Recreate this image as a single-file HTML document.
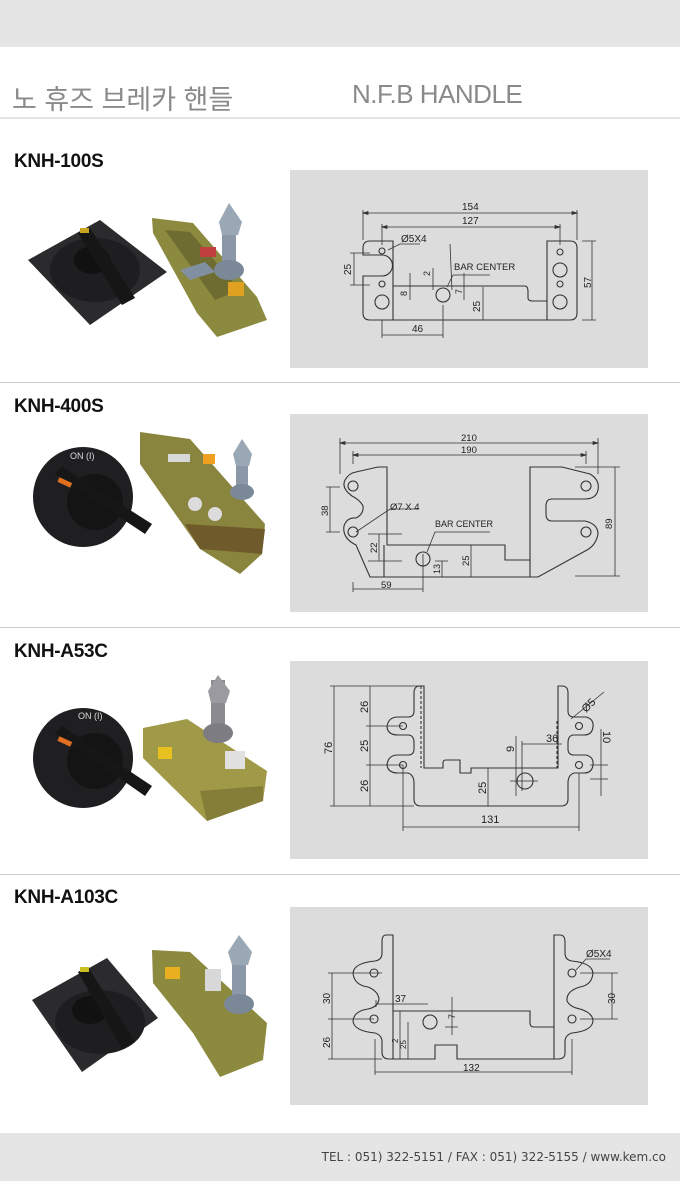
<!DOCTYPE html>
<html><head><meta charset="utf-8"><style>
*{margin:0;padding:0;box-sizing:border-box}
body{width:680px;height:1181px;background:#fff;position:relative;overflow:hidden;font-family:"Liberation Sans","Noto Sans CJK KR",sans-serif}
.band{position:absolute;left:0;width:680px;background:#e6e5e6}
.t{position:absolute;color:#8a8a8a;font-size:27px}
.hr{position:absolute;left:0;width:680px;height:2px;background:#e4e4e4}
.h{position:absolute;left:14px;font-weight:bold;font-size:19px;color:#111;letter-spacing:-0.3px}
.box{position:absolute;left:290px;width:358px;height:198px;background:#dcdcdc}
.ph{position:absolute;left:0;width:290px;height:200px}
svg text{font-family:"Liberation Sans",sans-serif;fill:#222}
.foot{position:absolute;right:14px;top:1150px;font-size:12px;color:#444;font-family:"DejaVu Sans","Liberation Sans",sans-serif}
</style></head><body>
<div class="band" style="top:0;height:47px"></div>
<div class="t" style="left:12px;top:78px">노 휴즈 브레카 핸들</div>
<div class="t" style="left:352px;top:79px;font-size:26px;letter-spacing:-0.5px">N.F.B HANDLE</div>
<div class="hr" style="top:117px"></div>

<div class="h" style="top:151px">KNH-100S</div>
<div class="h" style="top:396px">KNH-400S</div>
<div class="h" style="top:641px">KNH-A53C</div>
<div class="h" style="top:887px">KNH-A103C</div>
<div class="hr" style="top:382px;height:1px;background:#ccc"></div>
<div class="hr" style="top:627px;height:1px;background:#ccc"></div>
<div class="hr" style="top:874px;height:1px;background:#ccc"></div>

<!-- photos -->
<svg class="ph" style="top:170px" viewBox="0 0 290 200">
<polygon points="28,90 100,50 167,102 90,155" fill="#2b2a2c"/>
<ellipse cx="95" cy="100" rx="45" ry="32" fill="#1e1e20"/>
<ellipse cx="92" cy="90" rx="18" ry="14" fill="#111"/>
<polygon points="78,63 90,58 135,128 122,135" fill="#161616"/>
<rect x="80" y="58" width="9" height="5" fill="#c9a520"/>
<polygon points="152,48 193,53 257,127 267,150 217,167 197,143 153,63" fill="#8c8a3e"/>
<polygon points="165,60 190,62 240,120 215,130" fill="#6e6c30"/>
<rect x="200" y="77" width="16" height="10" fill="#c04040"/>
<rect x="228" y="112" width="16" height="14" fill="#e0a020"/>
<polygon points="180,100 205,92 215,102 190,110" fill="#8090a0"/>
<rect x="222" y="52" width="14" height="55" fill="#8a98a8"/>
<ellipse cx="229" cy="100" rx="15" ry="10" fill="#7a8898"/>
<polygon points="219,52 229,33 242,52 238,65 222,65" fill="#9aa8b6"/>
</svg>
<svg class="ph" style="top:414px" viewBox="0 0 290 200">
<circle cx="83" cy="83" r="50" fill="#1f1f21"/>
<circle cx="95" cy="88" r="28" fill="#141414"/>
<polygon points="55,60 62,53 152,110 145,120" fill="#161616"/>
<rect x="58" y="66" width="14" height="5" fill="#e07020" transform="rotate(25 65 68)"/>
<text x="70" y="45" font-size="9" style="fill:#ddd">ON (I)</text>
<polygon points="140,18 190,25 265,110 262,140 240,160 200,135 140,50" fill="#8a853e"/>
<polygon points="185,110 265,115 262,140 200,135" fill="#6e5a2a"/>
<circle cx="195" cy="90" r="7" fill="#dcdcdc"/><circle cx="215" cy="100" r="7" fill="#dcdcdc"/>
<rect x="168" y="40" width="22" height="8" fill="#d8d8d8"/>
<rect x="203" y="40" width="12" height="10" fill="#f0a020"/>
<rect x="236" y="40" width="12" height="40" fill="#8a98a8"/>
<ellipse cx="242" cy="78" rx="12" ry="8" fill="#7a8898"/>
<polygon points="233,40 242,25 252,40 249,52 236,52" fill="#9aa8b6"/>
</svg>
<svg class="ph" style="top:661px" viewBox="0 0 290 200">
<circle cx="83" cy="97" r="50" fill="#1f1f21"/>
<circle cx="95" cy="100" r="28" fill="#141414"/>
<polygon points="55,72 62,65 152,125 145,135" fill="#161616"/>
<rect x="58" y="78" width="14" height="5" fill="#e07020" transform="rotate(25 65 80)"/>
<text x="78" y="58" font-size="9" style="fill:#ddd">ON (I)</text>
<polygon points="143,67 187,58 267,110 263,140 207,160 143,97" fill="#a09a48"/>
<polygon points="200,130 263,125 263,140 207,160" fill="#857e38"/>
<rect x="158" y="86" width="14" height="12" fill="#e8c020"/>
<rect x="225" y="90" width="20" height="18" fill="#e0e0e0"/>
<rect x="211" y="19" width="14" height="55" fill="#8a8a90"/>
<ellipse cx="218" cy="72" rx="15" ry="10" fill="#7c7c82"/>
<polygon points="208,30 218,14 230,30 226,42 211,42" fill="#9a9aa0"/>
</svg>
<svg class="ph" style="top:907px" viewBox="0 0 290 200">
<polygon points="32,93 107,51 158,111 82,165" fill="#2b2a2c"/>
<ellipse cx="100" cy="115" rx="45" ry="32" fill="#1e1e20"/>
<ellipse cx="90" cy="103" rx="18" ry="14" fill="#111"/>
<polygon points="78,65 88,60 135,135 122,142" fill="#161616"/>
<rect x="80" y="60" width="9" height="5" fill="#c9c020"/>
<polygon points="152,43 190,45 267,116 263,153 220,170 193,126 153,76" fill="#8c8a3e"/>
<rect x="165" y="60" width="15" height="12" fill="#e8b020"/>
<rect x="205" y="62" width="16" height="22" fill="#d8d8d8"/>
<rect x="232" y="45" width="14" height="55" fill="#8a98a8"/>
<ellipse cx="239" cy="97" rx="15" ry="10" fill="#7a8898"/>
<polygon points="228,45 239,28 252,45 248,58 232,58" fill="#9aa8b6"/>
</svg>

<!-- drawing 1 -->
<svg class="box" style="top:170px" viewBox="0 0 358 198" fill="none" stroke="#333" stroke-width="0.8">
<g stroke-width="1.1">
<path d="M80,71 H103 V116 H235 Q238,116 238,122 V128 Q238,131 243,131 H257 V71 H280 Q287,71 287,78 V143 Q287,150 280,150 H80 Q73,150 73,143 V106 H92 A10.5,10.5 0 0 0 92,85 H73 V78 Q73,71 80,71 Z"/>
<path d="M103,116 V150 M257,131 V150"/>
<circle cx="92" cy="81" r="3"/><circle cx="92" cy="114" r="3"/><circle cx="92" cy="132" r="7"/>
<circle cx="270" cy="82" r="3"/><circle cx="270" cy="100" r="7"/><circle cx="270" cy="114" r="3"/><circle cx="270" cy="132" r="7"/>
<circle cx="153" cy="125" r="7"/>
</g>
<path d="M73,43 H287 M73,40 V70 M287,40 V70 M92,57 H270 M92,54 V75 M270,54 V75 M64,83 V115 M60,83 H80 M60,115 H80 M302,71 V150 M292,71 H306 M292,150 H306 M92,165 H153 M92,150 V168 M153,135 V168 M120,103 V130 M143,98 V120 M174,103 V130 M193,117 V150 M160,74 L162,120 M98,80 L110,74 H130 M163,105 L157,117 M163,105 H200"/>
<path d="M73,43 l5,-1.5 v3z M287,43 l-5,-1.5 v3z M92,57 l5,-1.5 v3z M270,57 l-5,-1.5 v3z" fill="#333"/>
<text x="172" y="40" font-size="10" stroke="none">154</text>
<text x="172" y="54" font-size="10" stroke="none">127</text>
<text x="111" y="72" font-size="10" stroke="none">Ø5X4</text>
<text x="164" y="100" font-size="9.5" stroke="none">BAR CENTER</text>
<text x="122" y="162" font-size="10" stroke="none">46</text>
<text font-size="10" stroke="none" transform="translate(61,105) rotate(-90)">25</text>
<text font-size="10" stroke="none" transform="translate(301,118) rotate(-90)">57</text>
<text font-size="9" stroke="none" transform="translate(117,126) rotate(-90)">8</text>
<text font-size="9" stroke="none" transform="translate(140,106) rotate(-90)">2</text>
<text font-size="9" stroke="none" transform="translate(172,124) rotate(-90)">7</text>
<text font-size="10" stroke="none" transform="translate(190,142) rotate(-90)">25</text>
</svg>

<!-- drawing 2 -->
<svg class="box" style="top:414px" viewBox="0 0 358 198" fill="none" stroke="#333" stroke-width="0.8">
<g stroke-width="1.1">
<path d="M88,53 H97 V131 H215 V146 H240 V53 H272 L300,60 Q310,66 308,76 Q306,85 295,85 H262 Q256,85 256,92 V100 Q256,107 262,107 H295 Q308,110 308,120 Q306,131 297,136 L248,163 H80 L66,131 Q52,124 54,112 Q57,103 66,104 Q74,100 73,92 Q70,86 62,82 Q51,74 55,66 Q59,59 66,58 Z"/>
<path d="M94,131 V163 M240,146 V163"/>
<circle cx="63" cy="72" r="5"/><circle cx="63" cy="118" r="5"/><circle cx="296" cy="72" r="5"/><circle cx="296" cy="118" r="5"/>
<circle cx="133" cy="145" r="7"/>
</g>
<path d="M50,29 H308 M50,24 V60 M308,24 V60 M63,41 H296 M63,37 V50 M296,37 V50 M40,73 V118 M36,73 H50 M36,118 H50 M325,53 V162 M285,53 H330 M285,162 H330 M63,175 H133 M63,168 V178 M133,140 V178 M89,120 V147 M78,120 H112 M78,147 H112 M152,147 V163 M145,147 H158 M181,131 V163 M66,118 L100,95 H128 M137,138 L145,118 H200"/>
<path d="M50,29 l5,-1.5 v3z M308,29 l-5,-1.5 v3z M63,41 l5,-1.5 v3z M296,41 l-5,-1.5 v3z" fill="#333"/>
<text x="171" y="27" font-size="9.5" stroke="none">210</text>
<text x="171" y="39" font-size="9.5" stroke="none">190</text>
<text x="100" y="96" font-size="9.5" stroke="none">Ø7 X 4</text>
<text x="145" y="113" font-size="9" stroke="none">BAR CENTER</text>
<text x="91" y="174" font-size="9.5" stroke="none">59</text>
<text font-size="9.5" stroke="none" transform="translate(38,102) rotate(-90)">38</text>
<text font-size="9.5" stroke="none" transform="translate(322,115) rotate(-90)">89</text>
<text font-size="9.5" stroke="none" transform="translate(87,139) rotate(-90)">22</text>
<text font-size="9" stroke="none" transform="translate(150,160) rotate(-90)">13</text>
<text font-size="9.5" stroke="none" transform="translate(179,152) rotate(-90)">25</text>
</svg>

<!-- drawing 3 -->
<svg class="box" style="top:661px" viewBox="0 0 358 198" fill="none" stroke="#333" stroke-width="0.8">
<g stroke-width="1.1">
<path d="M130,25 H134 V107 H153 V102 Q153,99 156,99 H170 V112 H181 V107 H268 V25 H272 Q278,25 278,32 V50 Q278,56 284,56 H296 Q304,58 303,66 Q302,74 294,74 H284 Q278,74 278,82 V88 Q278,94 284,94 H296 Q304,96 303,104 Q302,112 294,112 H284 Q278,114 278,122 V138 Q278,145 271,145 H131 Q124,145 124,138 V122 Q124,114 118,112 H108 Q98,112 97,104 Q98,94 108,94 H118 Q124,94 124,88 V82 Q124,74 118,74 H108 Q98,74 97,66 Q98,56 108,56 H118 Q124,56 124,50 V32 Q124,25 130,25 Z"/>
<path d="M131,25 V107 M267,60 V107" stroke-dasharray="3,2"/>
<circle cx="113" cy="65" r="3.5"/><circle cx="113" cy="104" r="3.5"/><circle cx="289" cy="65" r="3.5"/><circle cx="289" cy="104" r="3.5"/>
<circle cx="235" cy="120" r="8"/>
</g>
<path d="M44,25 V145 M40,25 H134 M40,145 H124 M80,25 V145 M76,65 H113 M76,104 H113 M198,107 V145 M226,75 V135 M220,120 H248 M232,83 H272 M232,80 V130 M311,68 V135 M300,104 H318 M300,118 H318 M113,104 V170 M289,112 V170 M113,166 H289 M281,58 L314,31"/>
<text font-size="11" stroke="none" transform="translate(42,93) rotate(-90)">76</text>
<text font-size="11" stroke="none" transform="translate(78,52) rotate(-90)">26</text>
<text font-size="11" stroke="none" transform="translate(78,91) rotate(-90)">25</text>
<text font-size="11" stroke="none" transform="translate(78,131) rotate(-90)">26</text>
<text font-size="11" stroke="none" transform="translate(196,133) rotate(-90)">25</text>
<text font-size="11" stroke="none" transform="translate(224,91) rotate(-90)">9</text>
<text font-size="11" stroke="none" transform="translate(313,70) rotate(90)">10</text>
<text font-size="11" stroke="none" transform="translate(296,52) rotate(-45)">Ø5</text>
<text x="256" y="81" font-size="11" stroke="none">36</text>
<text x="191" y="162" font-size="11" stroke="none">131</text>
</svg>

<!-- drawing 4 -->
<svg class="box" style="top:907px" viewBox="0 0 358 198" fill="none" stroke="#333" stroke-width="0.8">
<g stroke-width="1.1">
<path d="M96,28 H103 V104 H240 V116 Q240,120 244,120 H264 V28 H270 Q275,28 275,35 V46 Q275,53 282,54 Q302,56 303,66 Q302,78 290,80 Q276,84 277,94 Q280,100 290,102 Q303,106 303,114 Q302,124 282,126 Q275,128 275,135 V146 Q275,152 268,152 H167 V138 H145 V152 H99 Q92,152 92,145 V135 Q92,128 85,126 Q64,124 63,114 Q64,104 78,102 Q88,100 89,92 Q88,84 78,80 Q64,78 63,66 Q64,56 85,54 Q92,53 92,46 V35 Q92,28 96,28 Z"/>
<path d="M103,104 V152 M264,120 V152"/>
<circle cx="84" cy="66" r="4"/><circle cx="84" cy="112" r="4"/><circle cx="282" cy="66" r="4"/><circle cx="282" cy="112" r="4"/>
<circle cx="140" cy="115" r="7"/>
</g>
<path d="M42,66 V152 M38,66 H92 M38,112 H84 M38,152 H92 M322,66 V112 M290,66 H328 M290,112 H328 M86,97 H138 M86,93 V100 M162,90 V128 M155,104 H168 M155,120 H168 M110,104 V152 M118,115 V152 M85,132 V168 M282,132 V168 M85,165 H282 M286,63 L296,52 H320"/>
<text font-size="10" stroke="none" transform="translate(40,97) rotate(-90)">30</text>
<text font-size="10" stroke="none" transform="translate(40,141) rotate(-90)">26</text>
<text font-size="10" stroke="none" transform="translate(325,97) rotate(-90)">30</text>
<text font-size="8" stroke="none" transform="translate(108,136) rotate(-90)">2</text>
<text font-size="8" stroke="none" transform="translate(116,142) rotate(-90)">25</text>
<text font-size="9" stroke="none" transform="translate(165,112) rotate(-90)">7</text>
<text x="105" y="95" font-size="10" stroke="none">37</text>
<text x="296" y="50" font-size="10" stroke="none">Ø5X4</text>
<text x="173" y="164" font-size="10" stroke="none">132</text>
</svg>

<div class="band" style="top:1133px;height:48px"></div>
<div class="foot">TEL : 051) 322-5151 / FAX : 051) 322-5155 / www.kem.co</div>
</body></html>
